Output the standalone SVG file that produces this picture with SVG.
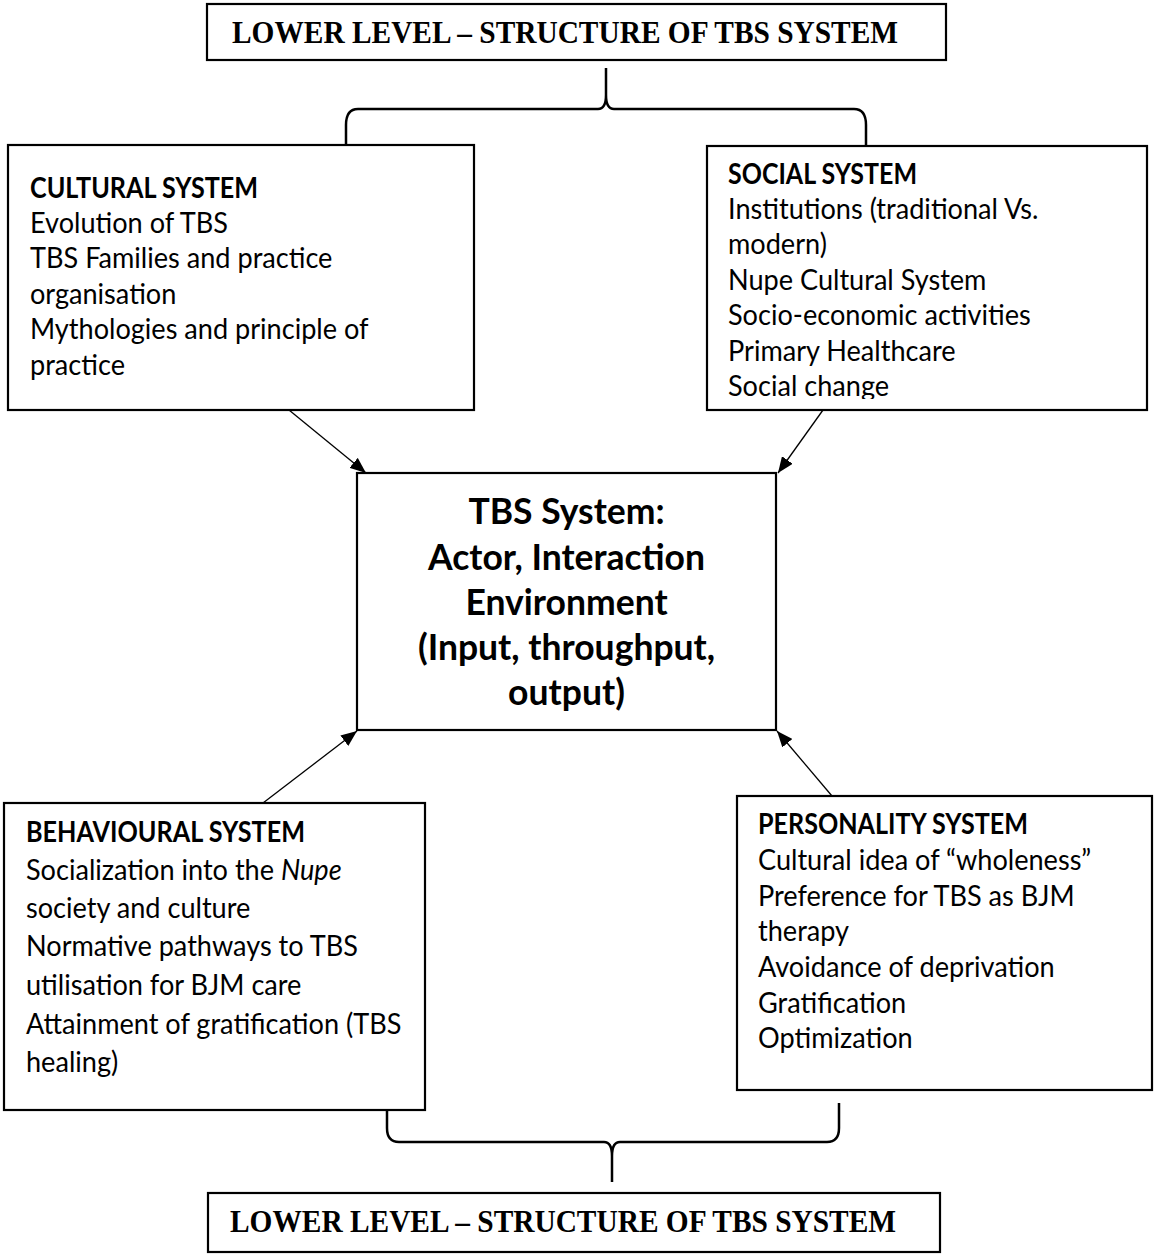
<svg xmlns="http://www.w3.org/2000/svg" width="1155" height="1254" viewBox="0 0 1155 1254">
<style>
.box{fill:#fff;stroke:#000;stroke-width:2.2}
.t{font-family:Lato,"Open Sans",sans-serif;font-size:29px;fill:#000}
.b{font-weight:bold}
.c{font-family:Lato,"Open Sans",sans-serif;font-size:37px;font-weight:bold;text-anchor:middle;fill:#000}
.s{font-family:"Liberation Serif","Times New Roman",serif;font-weight:bold;font-size:32px;fill:#000}
.conn{stroke:#000;stroke-width:1.3;fill:none}
.brace{stroke:#000;stroke-width:2.5;fill:none}
</style>
<defs>
<marker id="ah" viewBox="0 0 16 13" refX="16" refY="6.5" markerWidth="16" markerHeight="13" markerUnits="userSpaceOnUse" orient="auto">
<path d="M0,0 L16,6.5 L0,13 z" fill="#000"/>
</marker>
<clipPath id="socClip"><rect x="707" y="146" width="440" height="253"/></clipPath>
</defs>

<g id="connectors">
<path class="brace" d="M346,152 L346,125 Q346,109 358,109 L598,109 Q606,109 606,95 L606,68 M606,95 Q606,109 614,109 L854,109 Q866,109 866,125 L866,152"/>
<path class="brace" d="M387,1103 L387,1128 Q387,1142 399,1142 L604,1142 Q612,1142 612,1156 L612,1182 M612,1156 Q612,1142 620,1142 L827,1142 Q839,1142 839,1128 L839,1103"/>
<line class="conn" x1="289" y1="410" x2="366" y2="473" marker-end="url(#ah)"/>
<line class="conn" x1="823" y1="410" x2="778" y2="473" marker-end="url(#ah)"/>
<line class="conn" x1="263" y1="803" x2="357" y2="731" marker-end="url(#ah)"/>
<line class="conn" x1="832" y1="796" x2="777" y2="731" marker-end="url(#ah)"/>
</g>

<g id="top-level">
<rect class="box" x="207" y="4" width="739" height="56"/>
<text class="s" x="232" y="43" textLength="666" lengthAdjust="spacingAndGlyphs">LOWER LEVEL – STRUCTURE OF TBS SYSTEM</text>
</g>

<g id="cultural-system">
<rect class="box" x="8" y="145" width="466" height="265"/>
<text class="t b" x="30" y="198" textLength="228" lengthAdjust="spacingAndGlyphs">CULTURAL SYSTEM</text>
<g transform="translate(30 0) scale(0.935 1)">
<text class="t" x="0" y="233">Evolution of TBS</text>
<text class="t" x="0" y="268.5">TBS Families and practice</text>
<text class="t" x="0" y="304">organisation</text>
<text class="t" x="0" y="339.5">Mythologies and principle of</text>
<text class="t" x="0" y="375">practice</text>
</g>
</g>

<g id="social-system">
<rect class="box" x="707" y="146" width="440" height="264"/>
<g clip-path="url(#socClip)">
<text class="t b" x="728" y="184" textLength="189" lengthAdjust="spacingAndGlyphs">SOCIAL SYSTEM</text>
<g transform="translate(728 0) scale(0.935 1)">
<text class="t" x="0" y="219">Institutions (traditional Vs.</text>
<text class="t" x="0" y="254.5">modern)</text>
<text class="t" x="0" y="290">Nupe Cultural System</text>
<text class="t" x="0" y="325.5">Socio-economic activities</text>
<text class="t" x="0" y="361">Primary Healthcare</text>
<text class="t" x="0" y="396.5">Social change</text>
</g>
</g>
</g>

<g id="tbs-system">
<rect class="box" x="357" y="473" width="419" height="257"/>
<g transform="translate(566.5 0) scale(0.96 1)">
<text class="c" x="0" y="524">TBS System:</text>
<text class="c" x="0" y="570">Actor, Interaction</text>
<text class="c" x="0" y="615">Environment</text>
<text class="c" x="0" y="660">(Input, throughput,</text>
<text class="c" x="0" y="705">output)</text>
</g>
</g>

<g id="behavioural-system">
<rect class="box" x="4" y="803" width="421" height="307"/>
<text class="t b" x="26" y="842" textLength="279" lengthAdjust="spacingAndGlyphs">BEHAVIOURAL SYSTEM</text>
<g transform="translate(26 0) scale(0.935 1)">
<text class="t" x="0" y="880">Socialization into the <tspan font-style="italic">Nupe</tspan></text>
<text class="t" x="0" y="918">society and culture</text>
<text class="t" x="0" y="956">Normative pathways to TBS</text>
<text class="t" x="0" y="995">utilisation for BJM care</text>
<text class="t" x="0" y="1034">Attainment of gratification (TBS</text>
<text class="t" x="0" y="1072">healing)</text>
</g>
</g>

<g id="personality-system">
<rect class="box" x="737" y="796" width="415" height="294"/>
<text class="t b" x="758" y="834" textLength="270" lengthAdjust="spacingAndGlyphs">PERSONALITY SYSTEM</text>
<g transform="translate(758 0) scale(0.935 1)">
<text class="t" x="0" y="870">Cultural idea of “wholeness”</text>
<text class="t" x="0" y="906">Preference for TBS as BJM</text>
<text class="t" x="0" y="941">therapy</text>
<text class="t" x="0" y="977">Avoidance of deprivation</text>
<text class="t" x="0" y="1013">Gratification</text>
<text class="t" x="0" y="1048">Optimization</text>
</g>
</g>

<g id="bottom-level">
<rect class="box" x="208" y="1193" width="732" height="59"/>
<text class="s" x="230" y="1232" textLength="666" lengthAdjust="spacingAndGlyphs">LOWER LEVEL – STRUCTURE OF TBS SYSTEM</text>
</g>
</svg>
